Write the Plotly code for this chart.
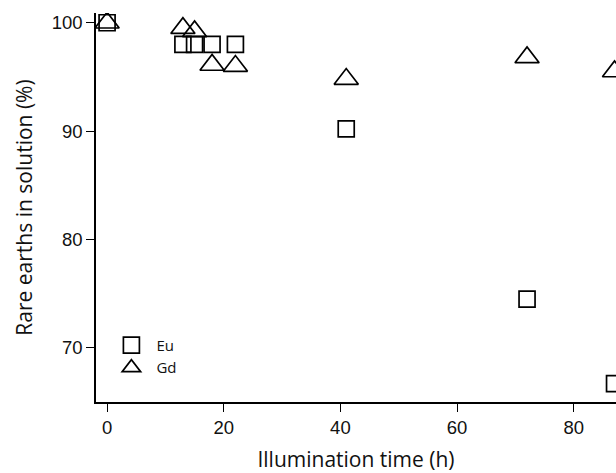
import plotly.graph_objects as go

# Data
time_h = [0, 13, 15, 18, 22, 41, 72, 87]
eu_pct = [100, 98.0, 98.0, 98.0, 98.0, 90.2, 74.5, 66.7]
gd_pct = [100, 99.5, 99.2, 96.1, 96.0, 94.8, 96.8, 95.5]

x_ticks = [0, 20, 40, 60, 80]
y_ticks = [70, 80, 90, 100]

fig = go.Figure()
fig.add_trace(go.Scatter(
    x=time_h, y=eu_pct, mode="markers", name="Eu",
    marker=dict(symbol="square-open", size=16, color="black",
                line=dict(width=1.7, color="black")),
))
fig.add_trace(go.Scatter(
    x=time_h, y=gd_pct, mode="markers", name="Gd",
    marker=dict(symbol="triangle-up-open", size=21, color="black",
                line=dict(width=1.7, color="black")),
))

tick_font = dict(family="Liberation Sans, Arial", size=18.5, color="#111")
title_font = dict(family="Open Sans", size=21, color="#111")

fig.update_layout(
    width=616, height=473,
    margin=dict(l=96, r=0, t=13, b=71),
    paper_bgcolor="white", plot_bgcolor="white",
    showlegend=True,
    legend=dict(x=0.02, y=0.188, xanchor="left", yanchor="top",
                font=dict(family="Open Sans", size=15, color="#111"),
                bgcolor="rgba(0,0,0,0)", borderwidth=0,
                tracegroupgap=0, itemsizing="trace", itemwidth=40),
    xaxis=dict(
        range=[-1.9, 87.25], tickvals=x_ticks, ticks="outside", ticklen=8,
        tickwidth=1.3, tickcolor="black", showline=True, linecolor="black",
        linewidth=1.5, showgrid=False, zeroline=False, tickfont=tick_font,
        title=dict(text="Illumination time (h)", font=title_font, standoff=16),
        automargin=False,
    ),
    yaxis=dict(
        range=[65.0, 100.9], tickvals=y_ticks, ticks="outside", ticklen=8,
        tickwidth=1.3, tickcolor="black", showline=True, linecolor="black",
        linewidth=1.5, showgrid=False, zeroline=False, tickfont=tick_font,
        title=dict(text="Rare earths in solution (%)", font=title_font, standoff=13),
        automargin=False,
    ),
)

fig.write_html("out.html")
